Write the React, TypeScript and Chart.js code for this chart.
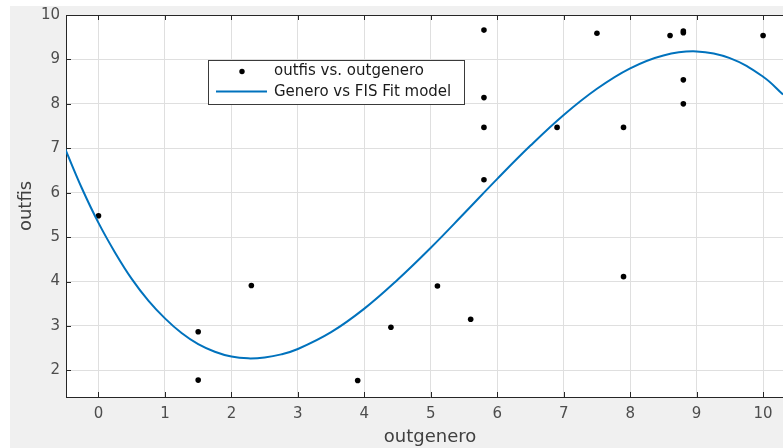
import React, { useEffect, useRef } from "react";
import { Chart, registerables } from "chart.js";

Chart.register(...registerables);

const scatterX = [0, 1.5, 1.5, 2.3, 3.9, 4.4, 5.1, 5.6, 5.8, 5.8, 5.8, 5.8, 6.9, 7.5, 7.9, 7.9, 8.6, 8.8, 8.8, 8.8, 8.8, 10];
const scatterY = [5.48, 2.87, 1.78, 3.91, 1.77, 2.97, 3.9, 3.15, 9.66, 8.14, 7.47, 6.29, 7.47, 9.59, 7.47, 4.11, 9.54, 9.64, 9.6, 8.54, 8.0, 9.54];

const curveX = [-0.5, -0.25, 0, 0.25, 0.5, 0.75, 1, 1.25, 1.5, 1.75, 2, 2.25, 2.5, 2.75, 3, 3.5, 4, 4.5, 5, 5.5, 6, 6.5, 7, 7.5, 8, 8.5, 9, 9.5, 10, 10.3];
const curveY = [6.98, 6.10, 5.32, 4.65, 4.06, 3.57, 3.17, 2.84, 2.59, 2.42, 2.31, 2.27, 2.29, 2.36, 2.48, 2.86, 3.39, 4.04, 4.76, 5.53, 6.31, 7.06, 7.75, 8.34, 8.80, 9.09, 9.18, 9.03, 8.61, 8.21];

const xTicks = [0, 1, 2, 3, 4, 5, 6, 7, 8, 9, 10];
const yTicks = [2, 3, 4, 5, 6, 7, 8, 9, 10];

const scatterLabel = "outfis vs. outgenero";
const curveLabel = "Genero vs FIS Fit model";
const xTitle = "outgenero";
const yTitle = "outfis";

const FONT = "'DejaVu Sans', Verdana, sans-serif";
const AXIS = "#262626";
const BLUE = "#0072BD";

const W = 798;
const H = 448;

export default function App() {
  const ref = useRef<HTMLCanvasElement | null>(null);

  useEffect(() => {
    document.body.style.margin = "0";
    document.documentElement.style.overflow = "hidden";
    document.body.style.overflow = "hidden";
    const canvas = ref.current;
    if (!canvas) return;

    const bgPlugin = {
      id: "bg",
      beforeDraw(chart: any) {
        const { ctx, chartArea } = chart;
        ctx.save();
        ctx.fillStyle = "#ffffff";
        ctx.fillRect(0, 0, chart.width, chart.height);
        ctx.fillStyle = "#f0f0f0";
        ctx.fillRect(10, 6, chart.width - 10, chart.height - 6);
        ctx.fillStyle = "#ffffff";
        ctx.fillRect(chartArea.left, chartArea.top, chartArea.right - chartArea.left, chartArea.bottom - chartArea.top);
        ctx.restore();
      },
    };

    const axesPlugin = {
      id: "matlabAxes",
      afterDraw(chart: any) {
        const { ctx, chartArea, scales } = chart;
        const { left, top, right, bottom } = chartArea;
        ctx.save();
        ctx.strokeStyle = AXIS;
        ctx.lineWidth = 1;
        ctx.beginPath();
        ctx.moveTo(left, top + 0.5);
        ctx.lineTo(right, top + 0.5);
        xTicks.forEach((v) => {
          const px = Math.round(scales.x.getPixelForValue(v)) + 0.5;
          ctx.moveTo(px, top);
          ctx.lineTo(px, top + 5);
          ctx.moveTo(px, bottom);
          ctx.lineTo(px, bottom - 5);
        });
        yTicks.forEach((v) => {
          const py = Math.round(scales.y.getPixelForValue(v)) + 0.5;
          ctx.moveTo(left, py);
          ctx.lineTo(left + 5, py);
        });
        ctx.stroke();

        // legend
        const bx = 208.5, by = 60.5, bw = 256, bh = 44;
        ctx.fillStyle = "#ffffff";
        ctx.fillRect(bx, by, bw, bh);
        ctx.strokeStyle = "#3a3a3a";
        ctx.strokeRect(bx, by, bw, bh);
        ctx.fillStyle = "#000000";
        ctx.beginPath();
        ctx.arc(242, 71.5, 2.7, 0, Math.PI * 2);
        ctx.fill();
        ctx.strokeStyle = BLUE;
        ctx.lineWidth = 2;
        ctx.beginPath();
        ctx.moveTo(216, 91.5);
        ctx.lineTo(267, 91.5);
        ctx.stroke();
        ctx.fillStyle = "#1a1a1a";
        ctx.font = "15px " + FONT;
        ctx.textBaseline = "middle";
        ctx.textAlign = "left";
        ctx.fillText(scatterLabel, 274, 71);
        ctx.fillText(curveLabel, 274, 92);
        ctx.restore();
      },
    };

    const chart = new Chart(canvas, {
      type: "scatter",
      data: {
        datasets: [
          {
            label: scatterLabel,
            data: scatterX.map((x, i) => ({ x, y: scatterY[i] })),
            backgroundColor: "#000000",
            borderColor: "#000000",
            pointRadius: 2.8,
            pointBorderWidth: 0,
            showLine: false,
            order: 1,
          },
          {
            label: curveLabel,
            data: curveX.map((x, i) => ({ x, y: curveY[i] })),
            borderColor: BLUE,
            backgroundColor: BLUE,
            borderWidth: 2,
            pointRadius: 0,
            showLine: true,
            tension: 0.4,
            order: 0,
          },
        ],
      },
      options: {
        animation: false,
        responsive: false,
        devicePixelRatio: 1,
        layout: { padding: { left: 0, top: 15, right: 0, bottom: 0 } },
        plugins: { legend: { display: false }, tooltip: { enabled: false } },
        scales: {
          x: {
            type: "linear",
            min: -0.489,
            max: 10.465,
            afterBuildTicks: (s: any) => {
              s.ticks = xTicks.map((v) => ({ value: v }));
            },
            afterFit: (s: any) => {
              s.height = 51;
            },
            grid: { color: "#dfdfdf", drawTicks: false, lineWidth: 1 },
            border: { color: AXIS, width: 1 },
            ticks: {
              color: "#4d4d4d",
              font: { family: FONT, size: 15 },
              padding: 8,
              maxRotation: 0,
              autoSkip: false,
            },
            title: {
              display: true,
              text: xTitle,
              color: "#404040",
              font: { family: FONT, size: 18 },
              padding: { top: 0, bottom: 0 },
            },
          },
          y: {
            type: "linear",
            min: 1.4,
            max: 10,
            afterBuildTicks: (s: any) => {
              s.ticks = yTicks.map((v) => ({ value: v }));
            },
            afterFit: (s: any) => {
              s.width = 66;
            },
            grid: { color: "#dfdfdf", drawTicks: false, lineWidth: 1 },
            border: { color: AXIS, width: 1 },
            ticks: {
              color: "#4d4d4d",
              font: { family: FONT, size: 15 },
              padding: 6,
              autoSkip: false,
            },
            title: {
              display: true,
              text: yTitle,
              color: "#404040",
              font: { family: FONT, size: 18 },
              padding: { top: 16, bottom: 0 },
            },
          },
        },
      },
      plugins: [bgPlugin, axesPlugin],
    } as any);

    return () => chart.destroy();
  }, []);

  return (
    <div style={{ width: W, height: H, overflow: "hidden" }}>
      <canvas ref={ref} width={W} height={H} style={{ display: "block", width: W, height: H }} />
    </div>
  );
}
